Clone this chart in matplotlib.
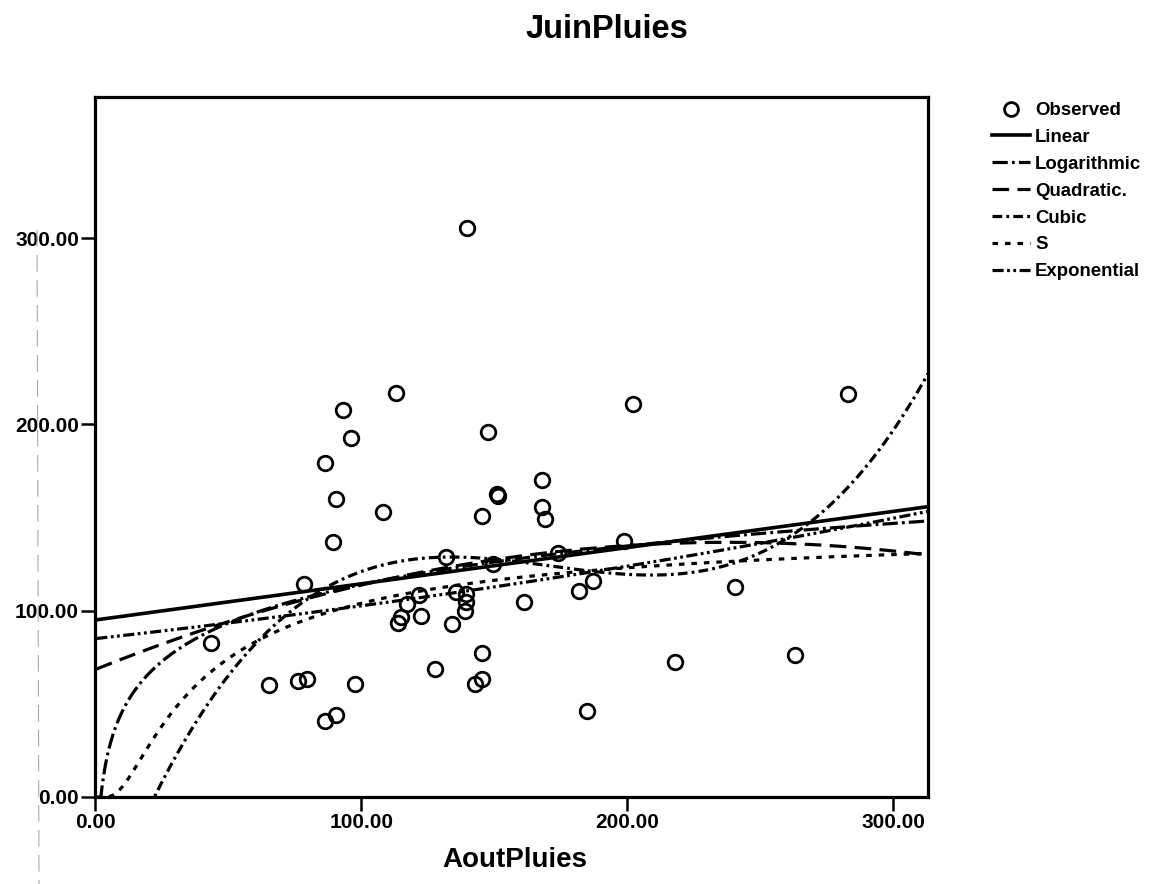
import numpy as np
import matplotlib
matplotlib.use("Agg")
from matplotlib import pyplot as plt
from matplotlib.lines import Line2D

aout = [139.8, 282.8, 113.0, 93.2, 96.1, 86.5, 147.5, 150.9, 151.5, 90.5,
        108.3, 145.6, 89.6, 131.8, 149.4, 78.6, 161.3, 121.8, 135.6, 139.4,
        139.4, 117.4, 139.1, 122.4, 114.9, 114.0, 134.3, 43.5, 145.4, 127.8,
        65.4, 76.1, 79.8, 97.7, 145.6, 142.9, 86.5, 90.7, 202.3, 167.9,
        167.9, 169.2, 198.9, 173.8, 187.0, 181.7, 240.6, 218.0, 263.2, 184.8]
juin = [305.4, 216.3, 217.0, 207.8, 192.5, 179.4, 195.7, 162.5, 161.5, 159.7,
        153.0, 150.8, 137.0, 128.6, 125.3, 114.3, 104.8, 108.4, 110.1, 109.2,
        104.8, 103.6, 100.0, 97.2, 96.7, 93.5, 93.1, 82.5, 77.5, 68.7,
        60.1, 62.4, 63.1, 60.5, 63.1, 60.6, 41.0, 44.0, 210.7, 170.2,
        155.8, 149.2, 137.4, 130.8, 116.1, 110.6, 112.8, 72.6, 76.2, 46.2]

x_ticks = [0, 100, 200, 300]
y_ticks = [0, 100, 200, 300]

plt.rcParams['font.family'] = ['Liberation Sans', 'DejaVu Sans']
plt.rcParams['lines.scale_dashes'] = False

x = np.array(aout)
y = np.array(juin)

# curve estimation models, fitted on the observed points
xs = np.linspace(0.5, 313, 600)
lin = np.polyval(np.polyfit(x, y, 1), xs)
b_log = np.polyfit(np.log(x), y, 1)
logc = b_log[0] * np.log(xs) + b_log[1]
quad = np.polyval(np.polyfit(x, y, 2), xs)
cub = np.polyval(np.polyfit(x, y, 3), xs)
b_s = np.polyfit(1 / x, np.log(y), 1)
s_c = np.exp(b_s[1] + b_s[0] / xs)
b_e = np.polyfit(x, np.log(y), 1)
expc = np.exp(b_e[1] + b_e[0] * xs)

fig = plt.figure(figsize=(11.59, 8.84), dpi=100)
ax = fig.add_axes([95 / 1159, 1 - 797 / 884, (928 - 95) / 1159, (797 - 97) / 884])

lw = 2.3
styles = {
    'Linear': dict(ls='-', lw=2.6),
    'Logarithmic': dict(ls=(0, (11, 3, 2, 3)), lw=lw),
    'Quadratic.': dict(ls=(0, (12, 6)), lw=lw),
    'Cubic': dict(ls=(0, (7, 3, 2, 3)), lw=lw),
    'S': dict(ls=(0, (4, 5)), lw=lw),
    'Exponential': dict(ls=(0, (8, 2.5, 2, 2.5, 2, 2.5)), lw=lw),
}
curves = {'Linear': lin, 'Logarithmic': logc, 'Quadratic.': quad,
          'Cubic': cub, 'S': s_c, 'Exponential': expc}

ax.plot(x, y, 'o', mfc='none', mec='black', ms=10.5, mew=2.0, zorder=5)
for name, yc in curves.items():
    ax.plot(xs, yc, color='black', **styles[name])

ax.set_xlim(0, 313)
ax.set_ylim(0, 375.7)
ax.set_xticks(x_ticks)
ax.set_yticks(y_ticks)
ax.set_xticklabels([f"{t:.2f}" for t in x_ticks], fontweight='bold')
ax.set_yticklabels([f"{t:.2f}" for t in y_ticks], fontweight='bold')
ax.tick_params(direction='out', length=10, width=1.8, labelsize=15, pad=1.5)
for sp in ax.spines.values():
    sp.set_linewidth(2.3)

fig.text(607 / 1159, 1 - 30 / 884, 'JuinPluies', ha='center', va='center',
         fontsize=23.5, fontweight='bold')
fig.text(515 / 1159, 1 - 860 / 884, 'AoutPluies', ha='center', va='center',
         fontsize=20, fontweight='bold')

# legend
handles = [Line2D([], [], ls='none', marker='o', mfc='none', mec='black', ms=10, mew=2.0)]
labels = ['Observed']
for name in curves:
    handles.append(Line2D([], [], color='black', **styles[name]))
    labels.append(name)
leg = fig.legend(handles, labels, loc='upper left', bbox_to_anchor=(992 / 1159, 1 - 102 / 884),
                 frameon=False, prop={'size': 13.4, 'weight': 'bold'}, handlelength=2.04,
                 handletextpad=0.27, labelspacing=0.53, borderpad=0, borderaxespad=0)

# faint fold line at the left edge of the scan
fig.add_artist(Line2D([37 / 1159, 39 / 1159], [1 - 230 / 884, 0.0], transform=fig.transFigure,
                      color='#aaaaaa', lw=0.8, ls=(0, (12, 6))))

fig.savefig('out.png', dpi=100)
